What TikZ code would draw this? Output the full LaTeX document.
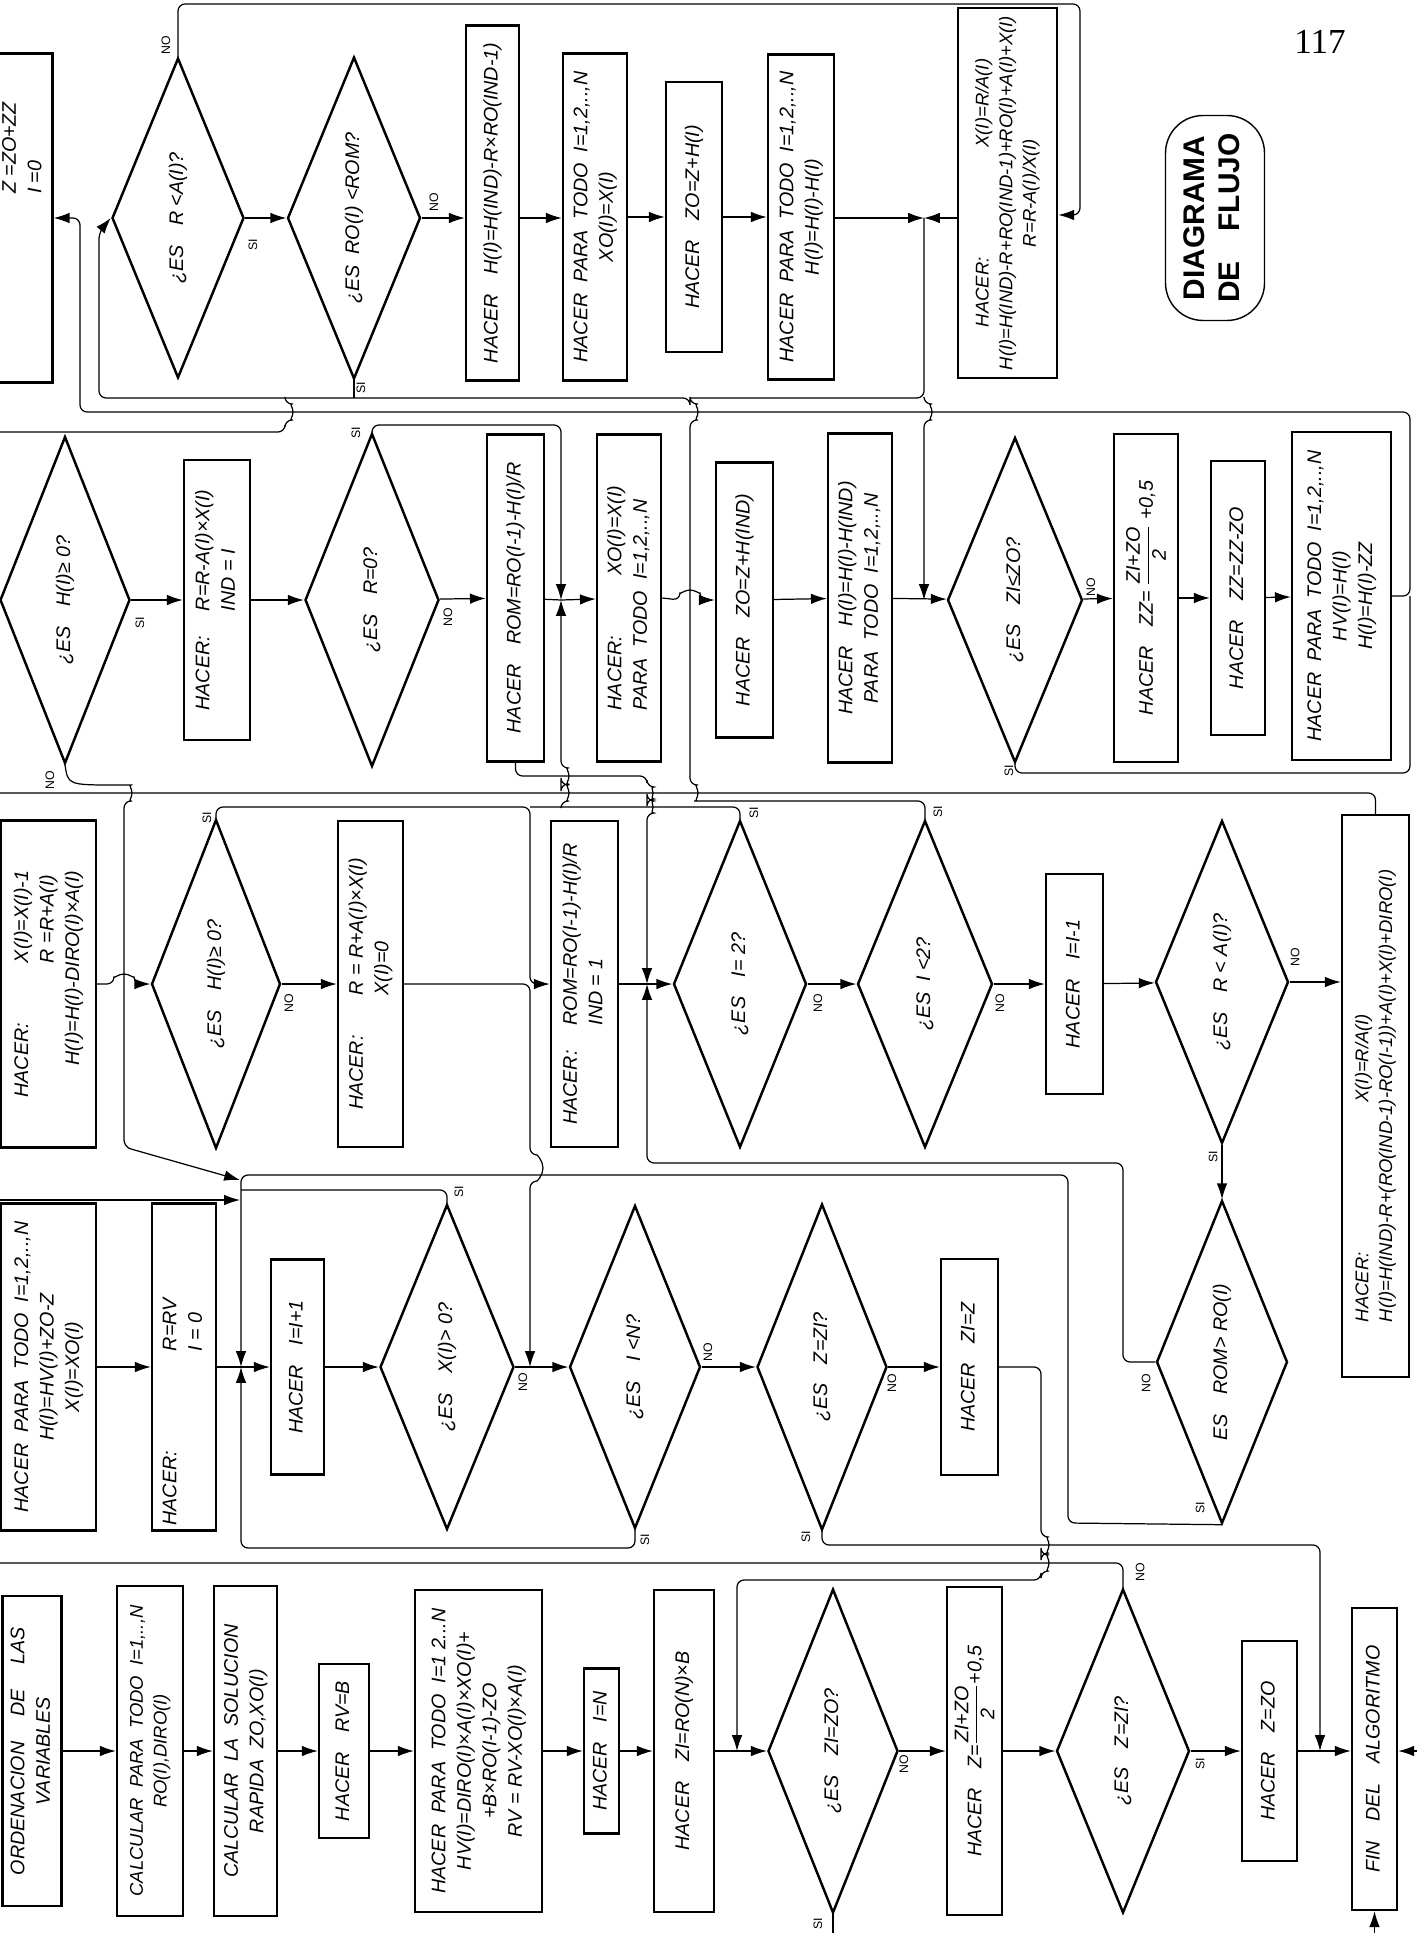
\documentclass[tikz,border=0pt]{standalone}
\usepackage{fontspec}
\usepackage{amsmath}
\setmainfont{Liberation Sans}
\newfontfamily\serifa{Liberation Serif}
\usetikzlibrary{shapes,arrows.meta}
\newcommand{\letra}{\fontsize{11.2}{14.5}\selectfont\itshape}
\newcommand{\letrachica}{\fontsize{10.5}{13.5}\selectfont\itshape}
\newcommand{\etiqueta}{\fontsize{7}{8}\selectfont}
\newcommand{\titulo}{\fontsize{17}{20}\selectfont\bfseries}
\newcommand{\girado}[1]{\rotatebox{90}{\begin{tabular}{@{}c@{}}#1\end{tabular}}}
\tikzstyle{caja} = [draw, line width=1.4pt, inner sep=2pt, font=\letra]
\tikzstyle{rombo} = [draw, diamond, shape aspect=0.4, line width=1.4pt, inner sep=0pt, font=\letra]
\tikzstyle{flecha} = [line width=0.7pt, rounded corners=4pt, -{Latex[length=9pt,width=6pt]}]
\tikzstyle{linea} = [line width=0.7pt, rounded corners=4pt]
\tikzstyle{etiq} = [font=\etiqueta, rotate=90, inner sep=0pt]

\begin{document}
\begin{tikzpicture}[x=0.02cm, y=-0.02cm]
\useasboundingbox (0,0) rectangle (1417,1933);
\fill[white] (0,0) rectangle (1417,1933);

% primera columna (abajo)
\node[caja, minimum width=1.18cm, minimum height=6.2cm] (ord) at (32,1751) {\girado{ORDENACION\quad\ DE\quad\ LAS\\VARIABLES}};
\node[caja, minimum width=1.32cm, minimum height=6.6cm, font=\letrachica] (calc1) at (150,1751) {\girado{CALCULAR\ \ PARA\ \ TODO\ \ I=1,..,N\\RO(I),DIRO(I)}};
\node[caja, minimum width=1.26cm, minimum height=6.6cm] (calc2) at (245.5,1751) {\girado{CALCULAR\ \ LA\ \ SOLUCION\\RAPIDA\ \ ZO,XO(I)}};
\node[caja, minimum width=1.0cm, minimum height=3.48cm] (rvb) at (344,1751) {\girado{HACER\quad RV=B}};
\node[caja, minimum width=2.54cm, minimum height=6.44cm] (hvi) at (478.5,1751) {\girado{HACER\ \ PARA\ \ TODO\ \ I=1 2...N\\HV(I)=DIRO(I)×A(I)×XO(I)+\\+B×RO(I-1)-ZO\\RV = RV-XO(I)×A(I)}};
\node[caja, minimum width=0.7cm, minimum height=3.3cm] (ien) at (601.5,1751) {\girado{HACER\quad I=N}};
\node[caja, minimum width=1.2cm, minimum height=6.44cm] (zirn) at (684,1751) {\girado{HACER\quad ZI=RO(N)×B}};
\node[rombo, minimum width=2.6cm, minimum height=6.48cm] (dzizo) at (833,1751) {\girado{¿ES\quad ZI=ZO?}};
\node[caja, minimum width=1.1cm, minimum height=6.56cm] (zmed) at (974.5,1751) {\girado{HACER\quad Z=$\dfrac{\mbox{ZI+ZO}}{\mbox{2}}$+0,5}};
\node[rombo, minimum width=2.66cm, minimum height=6.48cm] (dzzi) at (1123,1751) {\girado{¿ES\quad Z=ZI?}};
\node[caja, minimum width=1.1cm, minimum height=4.4cm] (zzo) at (1269.5,1751) {\girado{HACER\quad Z=ZO}};
\node[caja, minimum width=0.9cm, minimum height=6.04cm] (fin) at (1374.5,1759) {\girado{FIN\quad DEL\quad ALGORITMO}};

% segunda columna
\node[caja, minimum width=1.9cm, minimum height=6.54cm] (hzo) at (48.5,1367) {\girado{HACER\ \ PARA\ \ TODO\ \ I=1,2,..,N\\H(I)=HV(I)+ZO-Z\\X(I)=XO(I)}};
\node[caja, minimum width=1.28cm, minimum height=6.54cm] (rrv) at (184,1367) {\rotatebox{90}{\begin{tabular}{@{}l@{\hspace{2cm}}l@{\hspace{1.8cm}}}HACER: & R=RV\\ & I = 0\end{tabular}}};
\node[caja, minimum width=1.06cm, minimum height=4.3cm] (iinc) at (297.5,1367) {\girado{HACER\quad I=I+1}};
\node[rombo, minimum width=2.68cm, minimum height=6.5cm] (dxpos) at (447,1367) {\girado{¿ES\quad X(I)> 0?}};
\node[rombo, minimum width=2.62cm, minimum height=6.46cm] (dimn) at (635,1367) {\girado{¿ES\quad I <N?}};
\node[rombo, minimum width=2.6cm, minimum height=6.52cm] (dzzi2) at (822,1367) {\girado{¿ES\quad Z=ZI?}};
\node[caja, minimum width=1.14cm, minimum height=4.32cm] (zieqz) at (969.5,1367) {\girado{HACER\quad ZI=Z}};
\node[rombo, minimum width=2.62cm, minimum height=6.46cm] (drom) at (1222,1362) {\girado{ES\quad ROM> RO(I)}};

% tercera columna
\node[caja, minimum width=1.9cm, minimum height=6.54cm] (s3b1) at (48.5,984) {\rotatebox{90}{\begin{tabular}{@{}l@{\hspace{1.2cm}}l@{}}HACER: & X(I)=X(I)-1\\ & R\ =R+A(I)\\ \multicolumn{2}{@{}r@{}}{H(I)=H(I)-DIRO(I)×A(I)}\end{tabular}}};
\node[rombo, minimum width=2.58cm, minimum height=6.58cm] (dh3) at (216,984) {\girado{¿ES\quad H(I)≥ 0?}};
\node[caja, minimum width=1.3cm, minimum height=6.52cm] (s3b2) at (370.5,984) {\rotatebox{90}{\begin{tabular}{@{}l@{\hspace{0.8cm}}l@{}}HACER: & R = R+A(I)×X(I)\\ & X(I)=0\end{tabular}}};
\node[caja, minimum width=1.34cm, minimum height=6.52cm] (s3b3) at (584.5,984) {\rotatebox{90}{\begin{tabular}{@{}l@{\hspace{0.5cm}}l@{}}HACER: & ROM=RO(I-1)-H(I)/R\\ & IND = 1\end{tabular}}};
\node[rombo, minimum width=2.66cm, minimum height=6.54cm] (di2) at (740,984) {\girado{¿ES\quad I= 2?}};
\node[rombo, minimum width=2.7cm, minimum height=6.54cm] (dil2) at (925,984) {\girado{¿ES\ \ I <2?}};
\node[caja, minimum width=1.14cm, minimum height=4.4cm] (idec) at (1074.5,984) {\girado{HACER\quad I=I-1}};
\node[rombo, minimum width=2.66cm, minimum height=6.46cm] (dra) at (1222,982) {\girado{¿ES\quad R < A(I)?}};
\node[caja, minimum width=1.34cm, minimum height=11.24cm, font=\letrachica] (xra) at (1375.5,1096) {\rotatebox{90}{\begin{tabular}{@{}l@{\hspace{3cm}}l@{}}HACER: & X(I)=R/A(I)\\ \multicolumn{2}{@{}l@{}}{H(I)=H(IND)-R+(RO(IND-1)-RO(I-1))+A(I)+X(I)+DIRO(I)}\end{tabular}}};

% cuarta columna
\node[rombo, minimum width=2.6cm, minimum height=6.54cm] (dh4) at (65,600) {\girado{¿ES\quad H(I)≥ 0?}};
\node[caja, minimum width=1.32cm, minimum height=5.6cm] (s4b1) at (217,600) {\rotatebox{90}{\begin{tabular}{@{}l@{\hspace{0.5cm}}l@{}}HACER: & R=R-A(I)×X(I)\\ & IND = I\end{tabular}}};
\node[rombo, minimum width=2.68cm, minimum height=6.66cm] (dr0) at (372,600) {\girado{¿ES\quad R=0?}};
\node[caja, minimum width=1.14cm, minimum height=6.54cm] (rom2) at (515.5,598) {\girado{HACER\quad ROM=RO(I-1)-H(I)/R}};
\node[caja, minimum width=1.28cm, minimum height=6.54cm] (xoi) at (629,598) {\rotatebox{90}{\begin{tabular}{@{}l@{\hspace{1.2cm}}l@{}}HACER: & XO(I)=X(I)\\ \multicolumn{2}{@{}l@{}}{PARA\ \ TODO\ \ I=1,2,..,N}\end{tabular}}};
\node[caja, minimum width=1.14cm, minimum height=5.5cm] (zoh) at (744.5,600) {\girado{HACER\quad ZO=Z+H(IND)}};
\node[caja, minimum width=1.28cm, minimum height=6.58cm] (hind) at (860,598) {\rotatebox{90}{\begin{tabular}{@{}l@{}}HACER\quad H(I)=H(I)-H(IND)\\ \ \ PARA\ \ TODO\ \ I=1,2,..,N\end{tabular}}};
\node[rombo, minimum width=2.7cm, minimum height=6.5cm] (dzle) at (1015,600) {\girado{¿ES\quad ZI≤ZO?}};
\node[caja, minimum width=1.28cm, minimum height=6.56cm] (zzm) at (1146,598) {\girado{HACER\quad ZZ= $\dfrac{\mbox{ZI+ZO}}{\mbox{2}}$ +0,5}};
\node[caja, minimum width=1.08cm, minimum height=5.48cm] (zzz) at (1238,598) {\girado{HACER\quad ZZ=ZZ-ZO}};
\node[caja, minimum width=1.98cm, minimum height=6.56cm] (hvh) at (1341.5,596) {\girado{HACER\ \ PARA\ \ TODO\ \ I=1,2,..,N\\HV(I)=H(I)\\H(I)=H(I)-ZZ}};

% quinta columna (arriba)
\node[caja, minimum width=1.14cm, minimum height=6.58cm] (zz5) at (23.5,218) {\rotatebox{90}{\begin{tabular}{@{\hspace{2.8cm}}l@{}}Z =ZO+ZZ\\I =0\end{tabular}}};
\node[rombo, minimum width=2.64cm, minimum height=6.4cm] (dra5) at (178,218) {\girado{¿ES\quad R <A(I)?}};
\node[rombo, minimum width=2.66cm, minimum height=6.44cm] (drom5) at (354,218) {\girado{¿ES\ \ RO(I) <ROM?}};
\node[caja, minimum width=1.06cm, minimum height=7.1cm] (hrom) at (492.5,203) {\girado{HACER\quad H(I)=H(IND)-R×RO(IND-1)}};
\node[caja, minimum width=1.28cm, minimum height=6.54cm] (xo5) at (595,217) {\girado{HACER\ \ PARA\ \ TODO\ \ I=1,2,..,N\\XO(I)=X(I)}};
\node[caja, minimum width=1.12cm, minimum height=5.4cm] (zoh5) at (694,217) {\girado{HACER\quad ZO=Z+H(I)}};
\node[caja, minimum width=1.32cm, minimum height=6.5cm] (hh5) at (801,217) {\girado{HACER\ \ PARA\ \ TODO\ \ I=1,2,..,N\\H(I)=H(I)-H(I)}};
\node[caja, minimum width=1.98cm, minimum height=7.4cm, font=\letrachica] (xr5) at (1007.5,193) {\girado{HACER:\hspace{2.2cm}X(I)=R/A(I)\\H(I)=H(IND)-R+RO(IND-1)+RO(I)+A(I)+X(I)\\R=R-A(I)/X(I)}};
\node[draw, line width=0.8pt, rounded corners=0.75cm, minimum width=1.98cm, minimum height=4.1cm, font=\titulo] (titulo) at (1215,218) {\girado{DIAGRAMA\\DE\quad FLUJO}};
\node[font=\serifa\fontsize{20}{20}\selectfont] (pagina) at (1320,42) {117};

% puntos de union
\coordinate (j2) at (241,1367);
\coordinate (j3) at (647,984);
\coordinate (j4) at (561,600);
\coordinate (j5) at (924,218);
\coordinate (c5) at (1080,215);
\coordinate (bd1) at (1417,1751);
\coordinate (bi1) at (1374.5,1933);
\coordinate (bi2) at (833,1933);
\coordinate (bz1) at (0,1563);
\coordinate (bz2) at (0,1200);
\coordinate (bz3) at (0,793);
\coordinate (bz4) at (0,432);

% flechas primera columna
\draw[flecha] (ord) -- (calc1);
\draw[flecha] (calc1) -- (calc2);
\draw[flecha] (calc2) -- (rvb);
\draw[flecha] (rvb) -- (hvi);
\draw[flecha] (hvi) -- (ien);
\draw[flecha] (ien) -- (zirn);
\draw[flecha] (zirn) -- (dzizo);
\draw[flecha] (dzizo) -- (zmed);
\draw[flecha] (zmed) -- (dzzi);
\draw[flecha] (dzzi) -- (zzo);
\draw[flecha] (zzo.east) -- (zzo.east -| fin.west);
\draw[flecha] (bd1) -- (bd1 -| fin.east);
\draw[flecha] (bi1) -- (fin.south);
\draw[linea] (dzizo.south) -- (bi2);
\draw[linea] (dzzi.north) |- (bz1);
\draw[flecha] (zieqz.east) -- (1041,1367) -- (1041,1537) arc[start angle=90,end angle=-90,radius=0.16cm] -- (1041,1555) arc[start angle=90,end angle=-90,radius=0.16cm] -- (1041,1580) -- (737,1580) -- (737,1751);
\draw[flecha] (dzzi2.south) |- (1320,1545) -- (1320,1751);

% flechas segunda columna
\draw[flecha] (hzo) -- (rrv);
\draw[linea] (rrv) -- (j2);
\draw[flecha] (j2) -- (iinc);
\draw[flecha] (iinc) -- (dxpos);
\draw[flecha] (dxpos) -- (dimn);
\draw[flecha] (dimn) -- (dzzi2);
\draw[flecha] (dzzi2) -- (zieqz);
\draw[flecha] (dimn.south) |- (241,1548) -- (j2);
\draw[flecha] (drom.south) -- (1068,1523) -- (1068,1175) -- (241,1175) -- (j2);
\draw[linea] (dxpos.north) |- (241,1190);
\draw[flecha] (bz2) -- (240,1200);
\draw[flecha] (drom.west) -- (1123,1362) -- (1123,1163) -- (647,1163) -- (j3);
\draw[flecha] (dra) -- (drom);
\draw[flecha] (s3b2.east) -- (530,984) -- (530,1155) arc[start angle=90,end angle=-90,radius=0.26cm] -- (530,1367);

% flechas tercera columna
\draw[flecha] (s3b1.east) -- (114,984) arc[start angle=180,end angle=0,radius=0.2cm] -- (dh3);
\draw[flecha] (dh3) -- (s3b2);
\draw[flecha] (dh3.north) |- (530,807) |- (s3b3.west);
\draw[linea] (s3b3) -- (j3);
\draw[flecha] (j3) -- (di2);
\draw[flecha] (di2) -- (dil2);
\draw[flecha] (dil2) -- (idec);
\draw[flecha] (idec) -- (dra);
\draw[flecha] (dra.east) -- (dra.east -| xra.west);
\draw[linea] (xra.north) |- (bz3);
\draw[linea] (di2.north) |- (530,807);
\draw[flecha] (561,807) -- (561,801) arc[start angle=-90,end angle=90,radius=0.16cm] -- (561,784) arc[start angle=-90,end angle=90,radius=0.16cm] -- (j4);
\draw[flecha] (rom2.south) -- (515.5,776) -- (647,776) -- (647,787) arc[start angle=90,end angle=-90,radius=0.12cm] -- (647,801) arc[start angle=90,end angle=-90,radius=0.12cm] -- (j3);
\draw[flecha] (dil2.north) |- (690,801) arc[start angle=-90,end angle=90,radius=0.16cm] -- (690,420) arc[start angle=-90,end angle=90,radius=0.16cm] -- (690,398) -- (99,398) -- (99,232) -- (dra5.west);
\draw[flecha] (dh4.south) .. controls (68,785) .. (124,785) arc[start angle=90,end angle=-90,radius=0.16cm] -- (124,1147) -- (240,1180);

% flechas cuarta columna
\draw[flecha] (dh4) -- (s4b1);
\draw[flecha] (s4b1) -- (dr0);
\draw[flecha] (dr0) -- (rom2);
\draw[linea] (rom2) -- (j4);
\draw[flecha] (j4) -- (xoi);
\draw[flecha] (dr0.north) |- (561,425) -- (j4);
\draw[flecha] (xoi.east) -- (680,600) arc[start angle=180,end angle=0,radius=0.2cm] -- (zoh.west);
\draw[flecha] (zoh) -- (hind);
\draw[flecha] (hind) -- (dzle);
\draw[flecha] (dzle) -- (zzm);
\draw[flecha] (zzm) -- (zzz);
\draw[flecha] (zzz) -- (hvh);
\draw[flecha] (hvh.east) -- (1410,596) -- (1410,412) -- (80,412) -- (80,218) -- (zz5.east);
\draw[linea] (dzle.south) |- (1410,773) -- (1410,596);

% flechas quinta columna
\draw[flecha] (dra5) -- (drom5);
\draw[flecha] (drom5.east) -- (drom5.east -| hrom.west);
\draw[flecha] (hrom.east |- j5) -- (xo5.west |- j5);
\draw[flecha] (xo5) -- (zoh5);
\draw[flecha] (zoh5) -- (hh5);
\draw[flecha] (hh5.east |- j5) -- (j5);
\draw[flecha] (xr5.west |- j5) -- (j5);
\draw[linea] (j5) |- (690,398);
\draw[flecha] (924,398) -- (924,404) arc[start angle=90,end angle=-90,radius=0.16cm] -- (924,600);
\draw[linea] (drom5.south) -- (354,398);
\draw[linea] (bz4) -- (285,432) -- (285,420) arc[start angle=-90,end angle=90,radius=0.16cm] -- (285,398);
\draw[flecha] (dra5.north) |- (1080,4) -- (c5) -- (xr5.east |- c5);

% etiquetas SI / NO
\node[etiq] (no1) at (904,1764) {NO};
\node[etiq] (si1) at (818,1924) {SI};
\node[etiq] (no2) at (1140,1572) {NO};
\node[etiq] (si2) at (1200,1764) {SI};
\node[etiq] (no3) at (523,1382) {NO};
\node[etiq] (si3) at (459,1192) {SI};
\node[etiq] (no4) at (708,1352) {NO};
\node[etiq] (si4) at (645,1540) {SI};
\node[etiq] (no5) at (892,1383) {NO};
\node[etiq] (si5) at (806,1537) {SI};
\node[etiq] (no6) at (1146,1383) {NO};
\node[etiq] (si6) at (1200,1508) {SI};
\node[etiq] (si7) at (1213,1157) {SI};
\node[etiq] (si8) at (207,818) {SI};
\node[etiq] (no8) at (289,1003) {NO};
\node[etiq] (si9) at (754,813) {SI};
\node[etiq] (no9) at (818,1003) {NO};
\node[etiq] (si10) at (938,812) {SI};
\node[etiq] (no10) at (1000,1003) {NO};
\node[etiq] (no11) at (1295,957) {NO};
\node[etiq] (no12) at (50,780) {NO};
\node[etiq] (si12) at (140,623) {SI};
\node[etiq] (si13) at (356,433) {SI};
\node[etiq] (no13) at (448,617) {NO};
\node[etiq] (no14) at (1091,587) {NO};
\node[etiq] (si14) at (1009,771) {SI};
\node[etiq] (no15) at (166,45) {NO};
\node[etiq] (si15) at (253,245) {SI};
\node[etiq] (no16) at (434,202) {NO};
\node[etiq] (si16) at (361,388) {SI};
\end{tikzpicture}
\end{document}
